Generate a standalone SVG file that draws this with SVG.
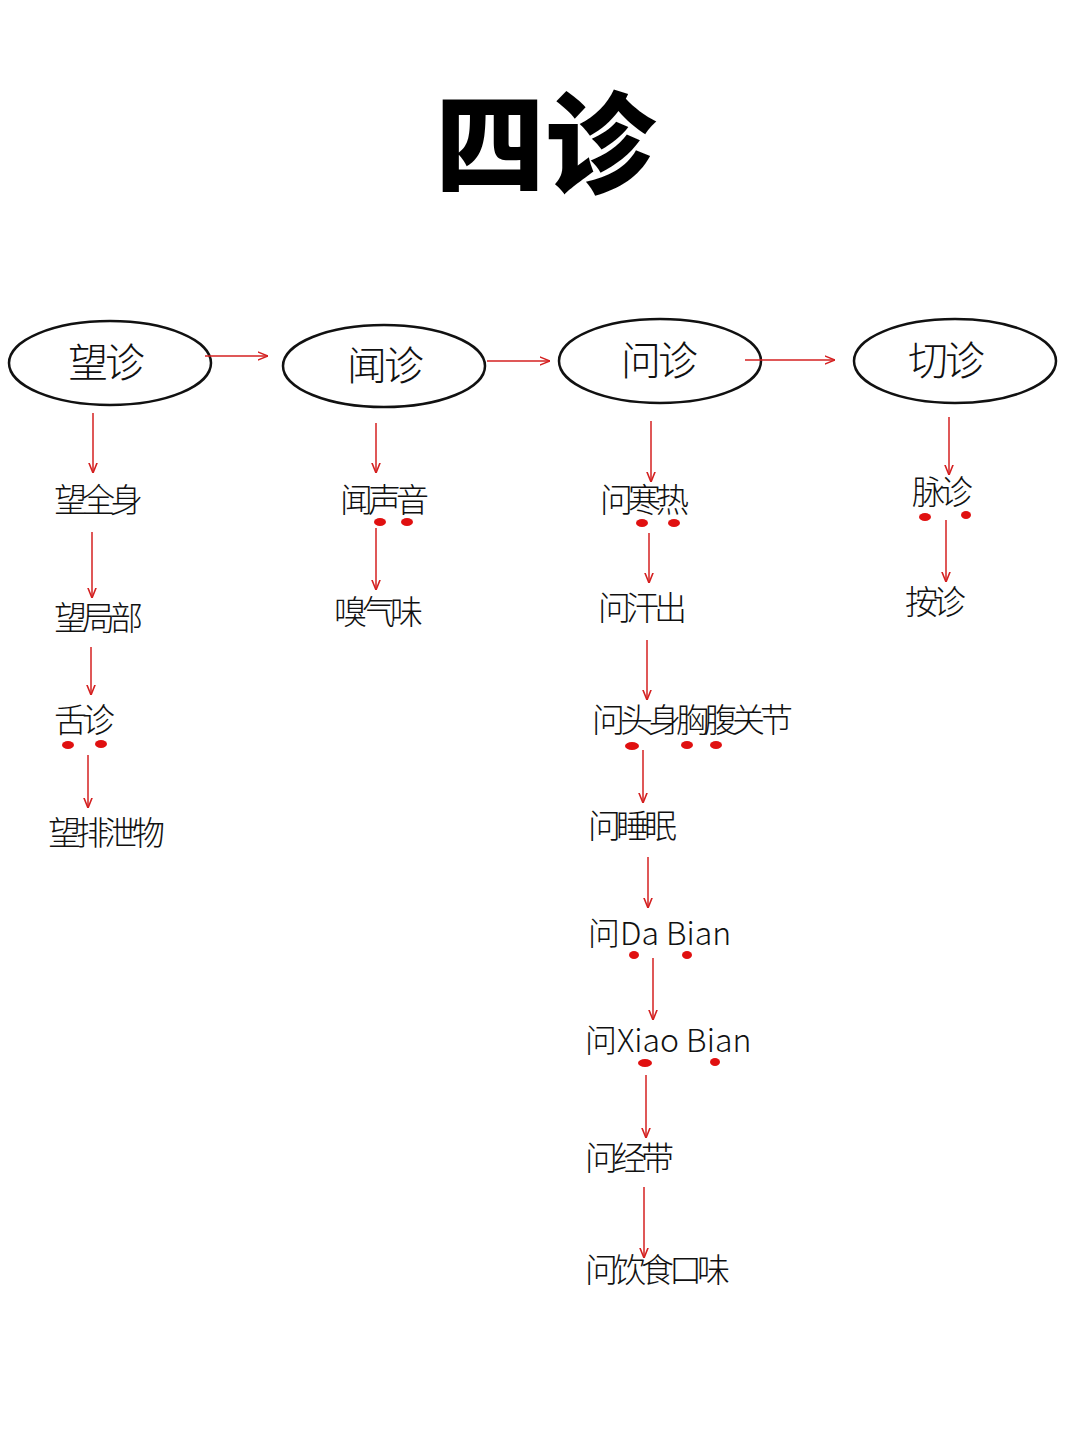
<svg xmlns="http://www.w3.org/2000/svg" width="1080" height="1439" viewBox="0 0 1080 1439">
<style>
.n{fill:none;stroke:#111;stroke-width:2.5}
.t{font-family:"Noto Sans CJK SC","Noto Sans",sans-serif;font-weight:300;font-size:33px;letter-spacing:-5px;fill:#111}
.l{font-family:"Noto Sans CJK SC","Noto Sans",sans-serif;font-weight:300;font-size:32px;fill:#111}
.h{font-family:"Noto Sans CJK SC",sans-serif;font-weight:300;font-size:40px;letter-spacing:-3px;fill:#111;text-anchor:middle}
.a{stroke:#d42020;stroke-width:1.5;fill:none;marker-end:url(#ar)}
.d{fill:#e01010}
</style>
<defs><marker id="ar" viewBox="0 0 10 10" refX="10" refY="5" markerWidth="7" markerHeight="7" orient="auto"><path d="M0,1 L10,5 L0,9" fill="none" stroke="#d42020" stroke-width="1.5"/></marker></defs>
<rect width="1080" height="1439" fill="#fff"/>
<text x="545" y="185" font-family="Noto Sans CJK SC,sans-serif" font-weight="900" font-size="110" text-anchor="middle" fill="#000">四诊</text>
<g id="n1"><ellipse class="n" cx="110" cy="363" rx="101" ry="42"/><text class="h" x="105" y="377">望诊</text></g>
<g id="n2"><ellipse class="n" cx="384" cy="366" rx="101" ry="41"/><text class="h" x="384" y="380">闻诊</text></g>
<g id="n3"><ellipse class="n" cx="660" cy="361" rx="101" ry="42"/><text class="h" x="658" y="375">问诊</text></g>
<g id="n4"><ellipse class="n" cx="955" cy="361" rx="101" ry="42"/><text class="h" x="945" y="375">切诊</text></g>
<g id="labels">
<text class="t" x="54" y="512">望全身</text>
<text class="t" x="54" y="630">望局部</text>
<text class="t" x="54" y="732">舌诊</text>
<text class="t" x="48" y="845">望排泄物</text>
<text class="t" x="340" y="512">闻声音</text>
<text class="t" x="334" y="624">嗅气味</text>
<text class="t" x="600" y="512">问寒热</text>
<text class="t" x="598" y="620">问汗出</text>
<text class="t" x="592" y="732">问头身胸腹关节</text>
<text class="t" x="588" y="838">问睡眠</text>
<text class="l" x="588" y="945">问Da Bian</text>
<text class="l" x="585" y="1052">问Xiao Bian</text>
<text class="t" x="585" y="1170">问经带</text>
<text class="t" x="585" y="1282">问饮食口味</text>
<text class="t" x="912" y="504">脉诊</text>
<text class="t" x="905" y="614">按诊</text>
</g>
<g id="dots">
<ellipse class="d" cx="68" cy="745" rx="6" ry="4"/><ellipse class="d" cx="101" cy="744" rx="6" ry="4"/>
<ellipse class="d" cx="380" cy="522" rx="6" ry="4"/><ellipse class="d" cx="407" cy="522" rx="6" ry="4"/>
<ellipse class="d" cx="642" cy="523" rx="6" ry="4"/><ellipse class="d" cx="674" cy="523" rx="6" ry="4"/>
<ellipse class="d" cx="632" cy="746" rx="7" ry="4"/><ellipse class="d" cx="687" cy="745" rx="6" ry="4"/><ellipse class="d" cx="716" cy="745" rx="6" ry="4"/>
<ellipse class="d" cx="634" cy="955" rx="5" ry="4"/><ellipse class="d" cx="687" cy="955" rx="5" ry="4"/>
<ellipse class="d" cx="645" cy="1063" rx="7" ry="4"/><ellipse class="d" cx="715" cy="1062" rx="5" ry="4"/>
<ellipse class="d" cx="925" cy="517" rx="6" ry="4"/><ellipse class="d" cx="966" cy="515" rx="5" ry="4"/>
</g>
<g id="connectors">
<path class="a" d="M205,356 L268,356"/><path class="a" d="M487,361 L550,361"/><path class="a" d="M745,360 L835,360"/>
<path class="a" d="M93,413 L93,473"/><path class="a" d="M92,532 L92,598"/><path class="a" d="M91,647 L91,695"/><path class="a" d="M88,755 L88,808"/>
<path class="a" d="M376,423 L376,473"/><path class="a" d="M376,528 L376,590"/>
<path class="a" d="M651,421 L651,482"/><path class="a" d="M649,533 L649,583"/><path class="a" d="M647,640 L647,700"/><path class="a" d="M643,750 L643,803"/><path class="a" d="M648,857 L648,908"/><path class="a" d="M653,958 L653,1020"/><path class="a" d="M646,1075 L646,1138"/><path class="a" d="M644,1187 L644,1258"/>
<path class="a" d="M949,417 L949,475"/><path class="a" d="M946,520 L946,582"/>
</g>
</svg>
